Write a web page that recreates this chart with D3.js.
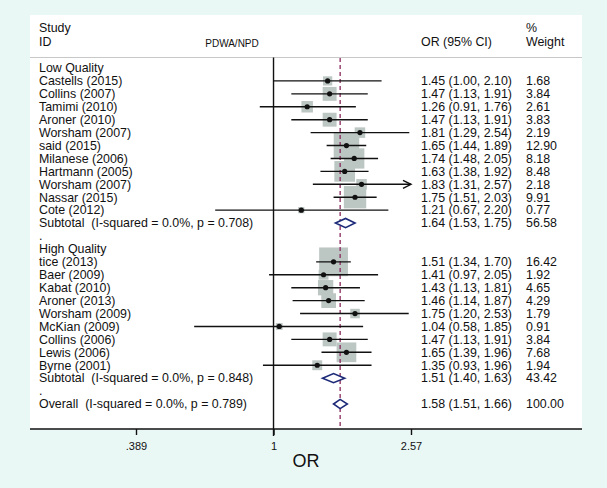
<!DOCTYPE html>
<html><head><meta charset="utf-8">
<script src="https://cdn.jsdelivr.net/npm/d3@7"></script>
<style>
html,body{margin:0;padding:0;background:#eaf8f5;}
svg{display:block;}
text{font-family:"Liberation Sans",Arial,Helvetica,sans-serif;fill:#111;white-space:pre;}
</style></head>
<body>
<svg id="c" width="607" height="488"></svg>
<script>
// ---- data ----
const rowLabels = ["Low Quality","Castells (2015)","Collins (2007)","Tamimi (2010)","Aroner (2010)","Worsham (2007)","said (2015)","Milanese (2006)","Hartmann (2005)","Worsham (2007)","Nassar (2015)","Cote (2012)","Subtotal  (I-squared = 0.0%, p = 0.708)",".","High Quality","tice (2013)","Baer (2009)","Kabat (2010)","Aroner (2013)","Worsham (2009)","McKian (2009)","Collins (2006)","Lewis (2006)","Byrne (2001)","Subtotal  (I-squared = 0.0%, p = 0.848)",".","Overall  (I-squared = 0.0%, p = 0.789)"];
const rowTypes = ["head","study","study","study","study","study","study","study","study","study","study","study","sub","blank","head","study","study","study","study","study","study","study","study","study","sub","blank","sub"];
const orValues = [null,1.45,1.47,1.26,1.47,1.81,1.65,1.74,1.63,1.83,1.75,1.21,1.64,null,null,1.51,1.41,1.43,1.46,1.75,1.04,1.47,1.65,1.35,1.51,null,1.58];
const ciLow    = [null,1.00,1.13,0.91,1.13,1.29,1.44,1.48,1.38,1.31,1.51,0.67,1.53,null,null,1.34,0.97,1.13,1.14,1.20,0.58,1.13,1.39,0.93,1.40,null,1.51];
const ciHigh   = [null,2.10,1.91,1.76,1.91,2.54,1.89,2.05,1.92,2.57,2.03,2.20,1.75,null,null,1.70,2.05,1.81,1.87,2.53,1.85,1.91,1.96,1.96,1.63,null,1.66];
const weights  = [null,1.68,3.84,2.61,3.83,2.19,12.90,8.18,8.48,2.18,9.91,0.77,56.58,null,null,16.42,1.92,4.65,4.29,1.79,0.91,3.84,7.68,1.94,43.42,null,100.00];
const tickValues = [0.389, 1, 2.57];
const tickLabels = [".389","1","2.57"];
const overallOR = 1.58;

// ---- layout ----
const svg = d3.select("#c");
const panel = {x0:30, x1:582, y0:15, y1:429};
const x = d3.scaleLog().domain([0.389, 2.57]).range([136, 411]);
const y = d3.scaleLinear().domain([0, 26]).range([68, 404]);
const fs = 12.4;

svg.append("rect").attr("x",panel.x0).attr("y",panel.y0)
  .attr("width",panel.x1-panel.x0).attr("height",panel.y1-panel.y0).attr("fill","#fff");

// header
const hdr = svg.append("g").attr("font-size",fs);
hdr.append("text").attr("x",39).attr("y",32).text("Study");
hdr.append("text").attr("x",39).attr("y",46).text("ID");
hdr.append("text").attr("x",232).attr("y",47).attr("text-anchor","middle").attr("font-size",10).text("PDWA/NPD");
hdr.append("text").attr("x",421).attr("y",46).text("OR (95% CI)");
hdr.append("text").attr("x",526).attr("y",32).text("%");
hdr.append("text").attr("x",526).attr("y",46).text("Weight");
svg.append("line").attr("x1",panel.x0).attr("x2",panel.x1).attr("y1",57.5).attr("y2",57.5)
  .attr("stroke","#c8c8c8").attr("stroke-width",1);

// rows data
const rows = rowLabels.map((l,i)=>({i,label:l,type:rowTypes[i],or:orValues[i],lo:ciLow[i],hi:ciHigh[i],w:weights[i]}));
const studies = rows.filter(r=>r.type==="study");
const subs = rows.filter(r=>r.type==="sub");

// boxes
svg.append("g").selectAll("rect").data(studies).join("rect")
  .attr("x",d=>x(d.or)-7.1*Math.sqrt(d.w)/2)
  .attr("y",d=>y(d.i)-7.1*Math.sqrt(d.w)/2)
  .attr("width",d=>7.1*Math.sqrt(d.w))
  .attr("height",d=>7.1*Math.sqrt(d.w))
  .attr("fill","#bcc6c2");

// no-effect line
svg.append("line").attr("x1",x(1)).attr("x2",x(1)).attr("y1",57.5).attr("y2",436)
  .attr("stroke","#111").attr("stroke-width",1.4);

// overall dashed line
svg.append("line").attr("x1",x(overallOR)).attr("x2",x(overallOR)).attr("y1",58).attr("y2",429)
  .attr("stroke","#8a2a5c").attr("stroke-width",1.3).attr("stroke-dasharray","4,3");

// CI lines
const [dmin,dmax] = x.domain();
svg.append("g").selectAll("line").data(studies).join("line")
  .attr("x1",d=>x(Math.max(d.lo,dmin))).attr("x2",d=>x(Math.min(d.hi,dmax)))
  .attr("y1",d=>y(d.i)).attr("y2",d=>y(d.i))
  .attr("stroke","#111").attr("stroke-width",1.4);
// arrows where CI reaches the axis limit
const arr = studies.filter(d=>d.hi>=dmax);
svg.append("g").selectAll("path").data(arr).join("path")
  .attr("d",d=>{const xe=x(dmax), yy=y(d.i);return `M${xe-8},${yy-4}L${xe},${yy}L${xe-8},${yy+4}`;})
  .attr("fill","none").attr("stroke","#111").attr("stroke-width",1.4);
// points
svg.append("g").selectAll("circle").data(studies).join("circle")
  .attr("cx",d=>x(d.or)).attr("cy",d=>y(d.i)).attr("r",2.6).attr("fill","#111");

// diamonds
svg.append("g").selectAll("path").data(subs).join("path")
  .attr("d",d=>{const yy=y(d.i), h=4.6;return `M${x(d.lo)},${yy}L${x(d.or)},${yy-h}L${x(d.hi)},${yy}L${x(d.or)},${yy+h}Z`;})
  .attr("fill","#fff").attr("stroke","#1c2a78").attr("stroke-width",1.6);

// text columns
const fmt = d3.format(".2f");
const tg = svg.append("g").attr("font-size",fs);
tg.selectAll("text.lab").data(rows).join("text").attr("class","lab")
  .attr("x",39).attr("y",d=>y(d.i)+4.3).text(d=>d.label);
const valRows = rows.filter(d=>d.or!==null);
tg.selectAll("text.or").data(valRows).join("text").attr("class","or")
  .attr("x",421).attr("y",d=>y(d.i)+4.3)
  .text(d=>`${fmt(d.or)} (${fmt(d.lo)}, ${fmt(d.hi)})`);
tg.selectAll("text.w").data(valRows).join("text").attr("class","w")
  .attr("x",526).attr("y",d=>y(d.i)+4.3).text(d=>fmt(d.w));

// axis
svg.append("line").attr("x1",panel.x0).attr("x2",panel.x1).attr("y1",429).attr("y2",429)
  .attr("stroke","#111").attr("stroke-width",1.5);
const axis = d3.axisBottom(x).tickValues(tickValues).tickFormat((d,i)=>tickLabels[i]).tickSize(6).tickPadding(7);
const ag = svg.append("g").attr("transform","translate(0,429)").call(axis);
ag.select(".domain").remove();
ag.selectAll(".tick line").attr("stroke","#111").attr("stroke-width",1.4);
ag.selectAll(".tick text").attr("font-size",11).attr("fill","#111")
  .attr("font-family","Liberation Sans,Arial,sans-serif");
svg.append("text").attr("x",306).attr("y",467).attr("text-anchor","middle").attr("font-size",18).text("OR");
</script>
</body></html>
